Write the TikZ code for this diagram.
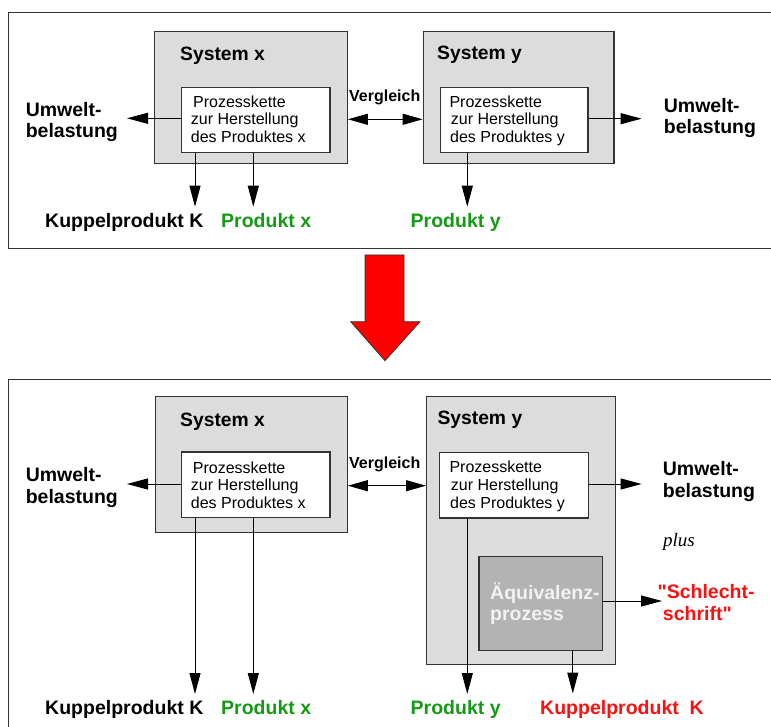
\documentclass[tikz,border=0pt]{standalone}
\usepackage{fontspec}
\setmainfont{Liberation Sans}
\newfontfamily\seriffont{Liberation Serif}
\usetikzlibrary{arrows.meta}

\definecolor{sysfill}{HTML}{DCDCDC}
\definecolor{aqfill}{HTML}{B3B3B3}
\definecolor{aqtext}{HTML}{F2F2F2}
\definecolor{edge}{HTML}{333333}
\definecolor{prodgreen}{HTML}{159A15}
\definecolor{warnred}{HTML}{FF1010}

\tikzset{
  panel/.style={draw=edge, line width=1.2pt},
  sysbox/.style={draw=edge, fill=sysfill, line width=1.2pt, anchor=north west, inner sep=0pt},
  procbox/.style={draw=edge, fill=white, line width=1.2pt, anchor=north west, inner sep=0pt},
  aqbox/.style={draw=edge, fill=aqfill, line width=1.2pt, anchor=north west, inner sep=0pt},
  title/.style={font=\fontsize{19.3}{21}\selectfont\bfseries, anchor=base west, inner sep=0pt},
  proc/.style={font=\fontsize{16}{18}\selectfont, anchor=base west, inner sep=0pt},
  lbl/.style={font=\fontsize{19.5}{21}\selectfont\bfseries\addfontfeatures{Ligatures=TeXOff}, anchor=base west, inner sep=0pt},
  cmp/.style={font=\fontsize{16}{18}\selectfont\bfseries, anchor=base west, inner sep=0pt},
  arr/.style={-{Triangle[length=21pt,width=11pt]}, line width=1pt},
  dblarr/.style={{Triangle[length=20pt,width=11pt]}-{Triangle[length=20pt,width=11pt]}, line width=1pt},
}

\begin{document}
\begin{tikzpicture}[x=1pt,y=-1pt]
\useasboundingbox (0,0) rectangle (771,727);
\clip (0,0) rectangle (771,727);

% ---------- upper panel: plain comparison ----------
\draw[panel] (8.5,12.7) rectangle (790,248.7);

\node[sysbox, minimum width=192.7pt, minimum height=132pt] (sx) at (154,30.7) {};
\node[sysbox, minimum width=190.6pt, minimum height=132pt] (sy) at (422.7,30.7) {};
\node[procbox, minimum width=148.6pt, minimum height=65.3pt] (ix) at (180.7,86.7) {};
\node[procbox, minimum width=147.3pt, minimum height=65.3pt] (iy) at (440,86.7) {};

\node[title] (tsx) at (180,61) {System x};
\node[title] (tsy) at (437,59.5) {System y};

\node[proc] (ix1) at (193,107.3) {Prozesskette};
\node[proc] (ix2) at (190.7,124.9) {zur Herstellung};
\node[proc] (ix3) at (190.7,142.6) {des Produktes x};
\node[proc] (iy1) at (449.3,107.3) {Prozesskette};
\node[proc] (iy2) at (450.7,124.9) {zur Herstellung};
\node[proc] (iy3) at (450,142.6) {des Produktes y};

\node[cmp] (v1) at (349,102) {Vergleich};

\node[lbl] (ul1) at (25.6,116.5) {Umwelt-};
\node[lbl] (ul2) at (25.6,138) {belastung};
\node[lbl] (ur1) at (663.7,112.5) {Umwelt-};
\node[lbl] (ur2) at (663.7,134) {belastung};

\node[lbl] (k1) at (45,227.5) {Kuppelprodukt K};
\node[lbl, text=prodgreen] (px1) at (221,227.5) {Produkt x};
\node[lbl, text=prodgreen] (py1) at (410.5,227.5) {Produkt y};

\coordinate (ulTip) at (127,118.3);
\coordinate (urTip) at (641.6,118.7);
\coordinate (kTip) at (195,206.7);
\coordinate (pxTip) at (253.3,206.7);
\coordinate (pyTip) at (467.3,206.7);

\draw[arr] (ix.west |- ulTip) -- (ulTip);
\draw[arr] (iy.east |- urTip) -- (urTip);
\draw[dblarr] (sx.east |- 0,119.3) -- (sy.west |- 0,119.3);
\draw[arr] (ix.south -| kTip) -- (kTip);
\draw[arr] (ix.south -| pxTip) -- (pxTip);
\draw[arr] (iy.south -| pyTip) -- (pyTip);

% ---------- transition arrow ----------
\draw[draw=edge, fill=red, line width=0.8pt]
  (365,255) -- (404,255) -- (404,321.7) -- (420,321.7) -- (385,360.7)
  -- (350.7,321.7) -- (365,321.7) -- cycle;

% ---------- lower panel: with equivalence process ----------
\draw[panel] (8.5,379.3) rectangle (790,745);

\node[sysbox, minimum width=192pt, minimum height=136pt] (sxb) at (154.7,396) {};
\node[sysbox, minimum width=188.5pt, minimum height=268pt] (syb) at (426,396) {};
\node[procbox, minimum width=148.6pt, minimum height=65.4pt] (ixb) at (180.7,451.3) {};
\node[procbox, minimum width=148.5pt, minimum height=65.6pt] (iyb) at (439,451.7) {};
\node[aqbox, minimum width=123.6pt, minimum height=94.5pt] (aq) at (478.4,555.5) {};

\node[title] (tsxb) at (180,426) {System x};
\node[title] (tsyb) at (437.3,424) {System y};

\node[proc] (ixb1) at (192.7,473.3) {Prozesskette};
\node[proc] (ixb2) at (190.7,490.8) {zur Herstellung};
\node[proc] (ixb3) at (190.7,508.6) {des Produktes x};
\node[proc] (iyb1) at (449.3,472.7) {Prozesskette};
\node[proc] (iyb2) at (450.7,490.2) {zur Herstellung};
\node[proc] (iyb3) at (450,508) {des Produktes y};

\node[lbl, text=aqtext] (aq1) at (490,599.5) {Äquivalenz-};
\node[lbl, text=aqtext] (aq2) at (490,620.5) {prozess};

\node[cmp] (v2) at (349,468.5) {Vergleich};

\node[lbl] (ulb1) at (25.6,481.5) {Umwelt-};
\node[lbl] (ulb2) at (25.6,503) {belastung};
\node[lbl] (urb1) at (662.7,475) {Umwelt-};
\node[lbl] (urb2) at (662.7,497) {belastung};

\node[font=\fontsize{19}{21}\selectfont\seriffont\itshape, anchor=base west, inner sep=0pt] (plus) at (663,546) {plus};

\node[lbl, text=warnred] (s1) at (657.3,598) {"Schlecht-};
\node[lbl, text=warnred] (s2) at (662.7,620.5) {schrift"};

\node[lbl] (kb) at (45,714) {Kuppelprodukt K};
\node[lbl, text=prodgreen] (pxb) at (221,714) {Produkt x};
\node[lbl, text=prodgreen] (pyb) at (410.5,714) {Produkt y};
\node[lbl, text=warnred] (kr) at (540,714) {Kuppelprodukt\ \ K};

\coordinate (ulbTip) at (127,484);
\coordinate (urbTip) at (641.6,484);
\coordinate (kbTip) at (195,694);
\coordinate (pxbTip) at (253.3,694);
\coordinate (pybTip) at (467.3,694);
\coordinate (krTip) at (572.8,693.5);
\coordinate (sTip) at (662,601);

\draw[arr] (ixb.west |- ulbTip) -- (ulbTip);
\draw[arr] (iyb.east |- urbTip) -- (urbTip);
\draw[dblarr] (sxb.east |- 0,485.7) -- (syb.west |- 0,485.7);
\draw[arr] (ixb.south -| kbTip) -- (kbTip);
\draw[arr] (ixb.south -| pxbTip) -- (pxbTip);
\draw[arr] (iyb.south -| pybTip) -- (pybTip);
\draw[arr] (aq.south -| krTip) -- (krTip);
\draw[arr] (aq.east |- sTip) -- (sTip);
\end{tikzpicture}
\end{document}
